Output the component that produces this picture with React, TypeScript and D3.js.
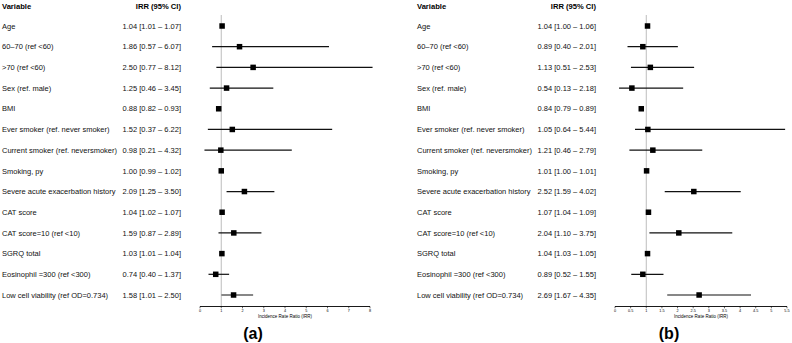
import React from "react";
import * as d3 from "d3";

// Row labels shared by both forest plots
const variables = [
  "Age",
  "60–70 (ref <60)",
  ">70 (ref <60)",
  "Sex (ref. male)",
  "BMI",
  "Ever smoker (ref. never smoker)",
  "Current smoker (ref. neversmoker)",
  "Smoking, py",
  "Severe acute exacerbation history",
  "CAT score",
  "CAT score=10 (ref <10)",
  "SGRQ total",
  "Eosinophil =300 (ref <300)",
  "Low cell viability (ref OD=0.734)",
];

// Panel (a)
const irrA = [1.04, 1.86, 2.5, 1.25, 0.88, 1.52, 0.98, 1.0, 2.09, 1.04, 1.59, 1.03, 0.74, 1.58];
const lowA = [1.01, 0.57, 0.77, 0.46, 0.82, 0.37, 0.21, 0.99, 1.25, 1.02, 0.87, 1.01, 0.4, 1.01];
const highA = [1.07, 6.07, 8.12, 3.45, 0.93, 6.22, 4.32, 1.02, 3.5, 1.07, 2.89, 1.04, 1.37, 2.5];
const ticksA = [0, 1, 2, 3, 4, 5, 6, 7, 8];

// Panel (b)
const irrB = [1.04, 0.89, 1.13, 0.54, 0.84, 1.05, 1.21, 1.01, 2.52, 1.07, 2.04, 1.04, 0.89, 2.69];
const lowB = [1.0, 0.4, 0.51, 0.13, 0.79, 0.64, 0.46, 1.0, 1.59, 1.04, 1.1, 1.03, 0.52, 1.67];
const highB = [1.06, 2.01, 2.53, 2.18, 0.89, 5.44, 2.79, 1.01, 4.02, 1.09, 3.75, 1.05, 1.55, 4.35];
const ticksB = [0, 0.5, 1, 1.5, 2, 2.5, 3, 3.5, 4, 4.5, 5, 5.5];

const font = "'Liberation Sans', Arial, Helvetica, sans-serif";

type ForestProps = {
  left: number;
  valueRight: number;
  plotX: [number, number];
  domain: [number, number];
  ticks: number[];
  irr: number[];
  low: number[];
  high: number[];
  letter: string;
};

function Forest({ left, valueRight, plotX, domain, ticks, irr, low, high, letter }: ForestProps) {
  const x = d3.scaleLinear().domain(domain).range(plotX);
  const y = d3.scalePoint<string>().domain(variables).range([26, 295]);
  const axisY = 306.5;
  const fmt = d3.format(".2f");
  const box = 5.5;

  return (
    <g fontFamily={font}>
      <text x={left} y={9} fontSize={7.6} fontWeight="bold">Variable</text>
      <text x={valueRight} y={9} fontSize={7.6} fontWeight="bold" textAnchor="end">IRR (95% CI)</text>

      {variables.map((v, i) => (
        <g key={v}>
          <text x={left} y={(y(v) ?? 0) + 2.7} fontSize={7.5} fill="#111">{v}</text>
          <text x={valueRight} y={(y(v) ?? 0) + 2.7} fontSize={7.5} fill="#111" textAnchor="end">
            {`${fmt(irr[i])} [${fmt(low[i])} – ${fmt(high[i])}]`}
          </text>
        </g>
      ))}

      {/* null effect line */}
      <line x1={x(1)} x2={x(1)} y1={15} y2={axisY} stroke="#b5b5b5" strokeWidth={0.9} />

      {variables.map((v, i) => {
        const cy = y(v) ?? 0;
        return (
          <g key={"m" + v}>
            <line x1={x(low[i])} x2={x(high[i])} y1={cy} y2={cy} stroke="#111" strokeWidth={1.2} />
            <rect x={x(irr[i]) - box / 2} y={cy - box / 2} width={box} height={box} fill="#000" />
          </g>
        );
      })}

      {/* x axis */}
      <line x1={plotX[0]} x2={plotX[1]} y1={axisY} y2={axisY} stroke="#000" strokeWidth={0.9} />
      {ticks.map((t) => (
        <g key={t}>
          <line x1={x(t)} x2={x(t)} y1={axisY} y2={axisY + 1.8} stroke="#000" strokeWidth={0.6} />
          <text x={x(t)} y={axisY + 5.8} fontSize={3.8} textAnchor="middle">{String(t)}</text>
        </g>
      ))}
      <text x={(plotX[0] + plotX[1]) / 2} y={axisY + 11.3} fontSize={4.5} textAnchor="middle">
        Incidence Rate Ratio (IRR)
      </text>
      <text x={(plotX[0] + plotX[1]) / 2 - 32} y={338.5} fontSize={16} fontWeight="bold" textAnchor="middle">
        {letter}
      </text>
    </g>
  );
}

export default function App() {
  return (
    <svg width={792} height={343} style={{ position: "absolute", left: 0, top: 0, background: "#fff" }}>
      <Forest left={2} valueRight={181} plotX={[200, 370]} domain={[0, 8]} ticks={ticksA}
        irr={irrA} low={lowA} high={highA} letter="(a)" />
      <Forest left={417} valueRight={596} plotX={[615, 787]} domain={[0, 5.5]} ticks={ticksB}
        irr={irrB} low={lowB} high={highB} letter="(b)" />
    </svg>
  );
}
